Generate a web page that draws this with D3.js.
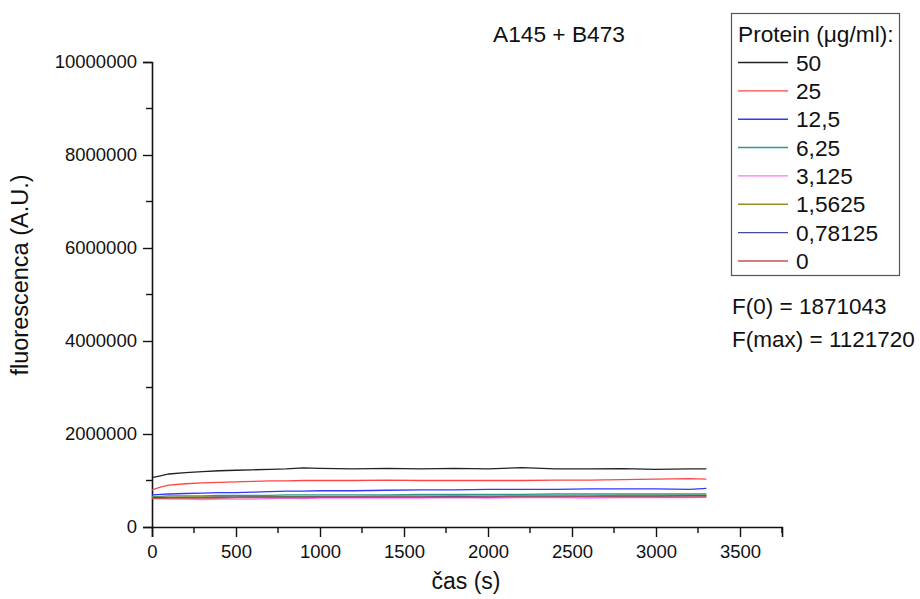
<!DOCTYPE html>
<html>
<head>
<meta charset="utf-8">
<script src="https://cdn.jsdelivr.net/npm/d3@7"></script>
<style>
  html, body { margin: 0; padding: 0; background: #fff; }
  svg { display: block; font-family: "Liberation Sans", Arial, sans-serif; }
</style>
</head>
<body>
<svg id="chart" width="920" height="599"></svg>
<script>
// Measurement times (s)
const times = [0, 50, 100, 200, 300, 400, 500, 600, 700, 800, 900, 1000, 1200, 1400, 1600, 1800, 2000, 2200, 2400, 2600, 2800, 3000, 3200, 3300];

// Protein concentrations (µg/ml), legend order
const concentrations = ["50", "25", "12,5", "6,25", "3,125", "1,5625", "0,78125", "0"];

// Fluorescence (A.U.) per concentration
const f50      = [1060000, 1100000, 1140000, 1170000, 1190000, 1210000, 1220000, 1230000, 1240000, 1250000, 1270000, 1260000, 1250000, 1260000, 1250000, 1260000, 1250000, 1275000, 1250000, 1250000, 1255000, 1240000, 1250000, 1250000];
const f25      = [800000, 860000, 900000, 930000, 950000, 960000, 970000, 980000, 990000, 990000, 1000000, 1000000, 1000000, 1010000, 1000000, 1000000, 1000000, 1000000, 1010000, 1010000, 1020000, 1030000, 1040000, 1030000];
const f12_5    = [690000, 700000, 710000, 720000, 730000, 740000, 740000, 750000, 760000, 770000, 770000, 780000, 780000, 790000, 800000, 800000, 810000, 810000, 810000, 820000, 820000, 820000, 810000, 830000];
const f6_25    = [660000, 660000, 670000, 670000, 670000, 680000, 680000, 680000, 680000, 690000, 690000, 690000, 690000, 690000, 700000, 700000, 700000, 700000, 710000, 710000, 710000, 710000, 710000, 710000];
const f3_125   = [620000, 610000, 600000, 600000, 590000, 600000, 600000, 600000, 610000, 620000, 610000, 620000, 620000, 620000, 620000, 630000, 620000, 630000, 630000, 620000, 630000, 630000, 630000, 640000];
const f1_5625  = [640000, 640000, 640000, 650000, 650000, 650000, 650000, 660000, 660000, 660000, 660000, 660000, 660000, 670000, 670000, 670000, 670000, 670000, 670000, 670000, 680000, 680000, 680000, 680000];
const f0_78125 = [630000, 630000, 630000, 630000, 630000, 640000, 640000, 640000, 640000, 640000, 640000, 650000, 650000, 650000, 650000, 660000, 650000, 660000, 660000, 660000, 660000, 660000, 670000, 670000];
const f0       = [610000, 610000, 620000, 620000, 620000, 620000, 630000, 630000, 630000, 630000, 630000, 640000, 640000, 640000, 640000, 640000, 640000, 650000, 650000, 650000, 650000, 650000, 650000, 650000];

const seriesValues = [f50, f25, f12_5, f6_25, f3_125, f1_5625, f0_78125, f0];
const seriesColors = ["#222222", "#ff4545", "#3535ff", "#2a9a8a", "#ff70ff", "#8f8f25", "#4a4a9a", "#c05555"];

// Axis ticks
const xTicks = [0, 500, 1000, 1500, 2000, 2500, 3000, 3500];
const xMinorTicks = [250, 750, 1250, 1750, 2250, 2750, 3250, 3750];
const yTicks = [0, 2000000, 4000000, 6000000, 8000000, 10000000];
const yMinorTicks = [1000000, 3000000, 5000000, 7000000, 9000000];

const titleText = "A145 + B473";
const xTitle = "čas (s)";
const yTitle = "fluorescenca (A.U.)";
const legendTitle = "Protein (μg/ml):";
const notes = ["F(0) = 1871043", "F(max) = 1121720"];

const svg = d3.select("#chart");
const x = d3.scaleLinear().domain([0, 3750]).range([152, 782]);
const y = d3.scaleLinear().domain([0, 10000000]).range([527, 62]);

const axisColor = "#111";

// X axis
const gx = svg.append("g").attr("transform", `translate(0,${y(0)})`);
gx.call(d3.axisBottom(x).tickValues(xTicks).tickSize(10).tickPadding(8).tickFormat(d3.format("d")))
  .call(g => g.select(".domain").attr("stroke", axisColor).attr("stroke-width", 1.6))
  .call(g => g.selectAll(".tick line").attr("stroke", axisColor).attr("stroke-width", 1.4))
  .call(g => g.selectAll(".tick text").attr("font-size", 18.5).attr("fill", "#111")
    .attr("font-family", "Liberation Sans, Arial, sans-serif"));
gx.append("g").selectAll("line").data(xMinorTicks).join("line")
  .attr("x1", d => x(d)).attr("x2", d => x(d)).attr("y1", 0).attr("y2", 6)
  .attr("stroke", axisColor).attr("stroke-width", 1.4);

// Y axis
const gy = svg.append("g").attr("transform", `translate(${x(0)},0)`);
gy.call(d3.axisLeft(y).tickValues(yTicks).tickSize(9).tickPadding(6).tickFormat(d3.format("d")))
  .call(g => g.select(".domain").attr("stroke", axisColor).attr("stroke-width", 1.6))
  .call(g => g.selectAll(".tick line").attr("stroke", axisColor).attr("stroke-width", 1.4))
  .call(g => g.selectAll(".tick text").attr("font-size", 18.5).attr("fill", "#111")
    .attr("font-family", "Liberation Sans, Arial, sans-serif"));
gy.append("g").selectAll("line").data(yMinorTicks).join("line")
  .attr("x1", 0).attr("x2", -6).attr("y1", d => y(d)).attr("y2", d => y(d))
  .attr("stroke", axisColor).attr("stroke-width", 1.4);

// Series lines
const line = d3.line().x(d => x(d[0])).y(d => y(d[1]));
seriesValues.forEach((vals, i) => {
  svg.append("path")
    .datum(times.map((t, k) => [t, vals[k]]))
    .attr("fill", "none")
    .attr("stroke", seriesColors[i])
    .attr("stroke-width", 1.3)
    .attr("d", line);
});

// Titles
svg.append("text").attr("x", 559).attr("y", 42).attr("text-anchor", "middle")
  .attr("font-size", 22.7).attr("fill", "#111").text(titleText);
svg.append("text").attr("x", 466).attr("y", 589).attr("text-anchor", "middle")
  .attr("font-size", 23).attr("fill", "#111").text(xTitle);
svg.append("text").attr("transform", "translate(28,275) rotate(-90)").attr("text-anchor", "middle")
  .attr("font-size", 23.5).attr("fill", "#111").text(yTitle);

// Legend
const lg = svg.append("g");
lg.append("rect").attr("x", 731.5).attr("y", 13.5).attr("width", 168).attr("height", 262)
  .attr("fill", "#fff").attr("stroke", "#555").attr("stroke-width", 1.2);
lg.append("text").attr("x", 738).attr("y", 42).attr("font-size", 22.7).attr("fill", "#111").text(legendTitle);
const rowY = i => 62.5 + i * 28.35;
concentrations.forEach((c, i) => {
  lg.append("line").attr("x1", 738).attr("x2", 788).attr("y1", rowY(i)).attr("y2", rowY(i))
    .attr("stroke", seriesColors[i]).attr("stroke-width", 1.4);
  lg.append("text").attr("x", 796).attr("y", rowY(i) + 8).attr("font-size", 22.7).attr("fill", "#111").text(c);
});

// Notes
notes.forEach((n, i) => {
  svg.append("text").attr("x", 732).attr("y", 314 + i * 32.5).attr("font-size", 22.5)
    .attr("fill", "#111").text(n);
});
</script>
</body>
</html>
